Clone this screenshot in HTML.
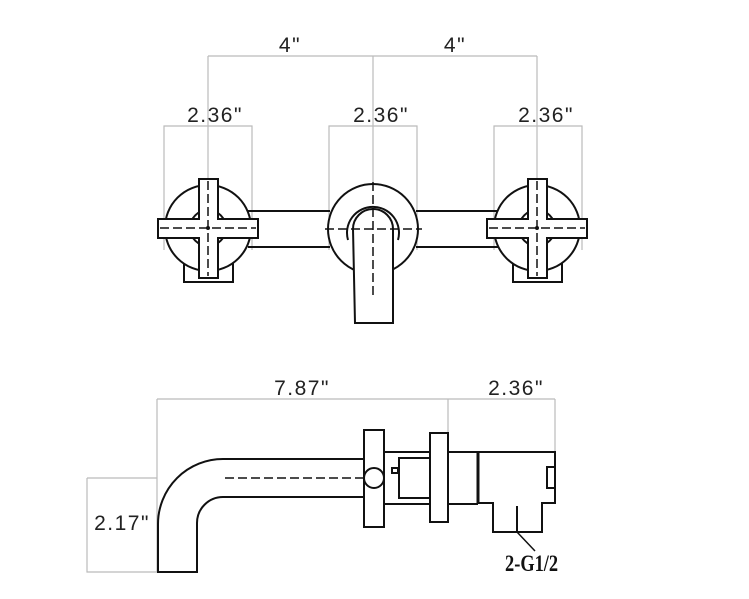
<!DOCTYPE html>
<html><head><meta charset="utf-8"><style>
html,body{margin:0;padding:0;background:#fff;}
svg{display:block;}
.d{fill:none;stroke:#bbb;stroke-width:1.2;}
.k{fill:none;stroke:#111;stroke-width:2;}
.w{fill:#fff;stroke:#111;stroke-width:2;}
.c{fill:none;stroke:#111;stroke-width:1.5;stroke-dasharray:9 4;}
.t{font-family:"Liberation Sans",sans-serif;font-size:21px;fill:#222;letter-spacing:1.5px;}
</style></head><body>
<svg width="749" height="599" viewBox="0 0 749 599" xmlns="http://www.w3.org/2000/svg">
<path class="d" d="M208 56H537M208 56V280M373 56V280M537 56V280"/>
<path class="d" d="M164 250V126H252V250M329 250V126H417V250M494 250V126H582V250"/>
<text class="t" x="290" y="52" text-anchor="middle">4"</text>
<text class="t" x="455" y="52" text-anchor="middle">4"</text>
<text class="t" x="215" y="122" text-anchor="middle">2.36"</text>
<text class="t" x="381" y="122" text-anchor="middle">2.36"</text>
<text class="t" x="546" y="122" text-anchor="middle">2.36"</text>

<path class="k" d="M248 211H330M248 247H330M416 211H498M416 247H498"/>

<g transform="translate(208,228)">
<rect class="w" x="-24" y="30" width="49" height="24"/>
<circle class="w" r="43"/>
<circle class="k" r="18"/>
<path class="w" d="M-9 -49H10V-9H50V10H10V50H-9V10H-50V-9H-9Z"/>
<path class="c" d="M-48 0H48M0 -47V48"/>
<circle r="2" fill="#111"/>
</g>
<g transform="translate(537,228)">
<rect class="w" x="-24" y="30" width="49" height="24"/>
<circle class="w" r="43"/>
<circle class="k" r="18"/>
<path class="w" d="M-9 -49H10V-9H50V10H10V50H-9V10H-50V-9H-9Z"/>
<path class="c" d="M-48 0H48M0 -47V48"/>
<circle r="2" fill="#111"/>
</g>
<circle class="w" cx="373" cy="229" r="45"/>
<path class="k" d="M348 240A26 26 0 1 1 398 240"/>
<path class="w" d="M353 229A20 20 0 0 1 393 229V323H355Z"/>
<path class="c" d="M325 229H422M373 182V296"/>

<path class="d" d="M157 399H555M157 399V572M448 399V433M555 399V453M87 478H157M87 478V572H157"/>
<text class="t" x="302" y="395" text-anchor="middle">7.87"</text>
<text class="t" x="516" y="395" text-anchor="middle">2.36"</text>
<text class="t" x="122" y="530" text-anchor="middle">2.17"</text>

<path class="k" d="M365 459H223A65 65 0 0 0 158 524V572H197V523A26 26 0 0 1 223 497H365"/>
<path class="c" d="M225 478H365"/>
<path class="k" d="M384 452H430M384 504H430"/>
<rect class="k" x="399" y="458" width="31" height="40"/>
<rect class="k" x="392" y="468" width="6" height="5"/>
<rect class="w" x="364" y="430" width="20" height="97"/>
<circle class="w" cx="374" cy="478" r="10"/>
<rect class="w" x="430" y="433" width="18" height="89"/>
<path class="k" d="M448 452H555V503H542V532H493V503H478"/>
<path class="k" d="M448 504H478"/>
<path d="M478 452V504" stroke="#111" stroke-width="3"/>
<path class="k" d="M517 506V532M555 467H547V488H555"/>
<path d="M517 532L535 551" stroke="#111" stroke-width="1.5"/>
<text x="505" y="571" font-family="'Liberation Serif',serif" font-weight="bold" font-size="23" fill="#111" transform="translate(505 0) scale(0.8 1) translate(-505 0)">2-G1/2</text>
</svg>
</body></html>
